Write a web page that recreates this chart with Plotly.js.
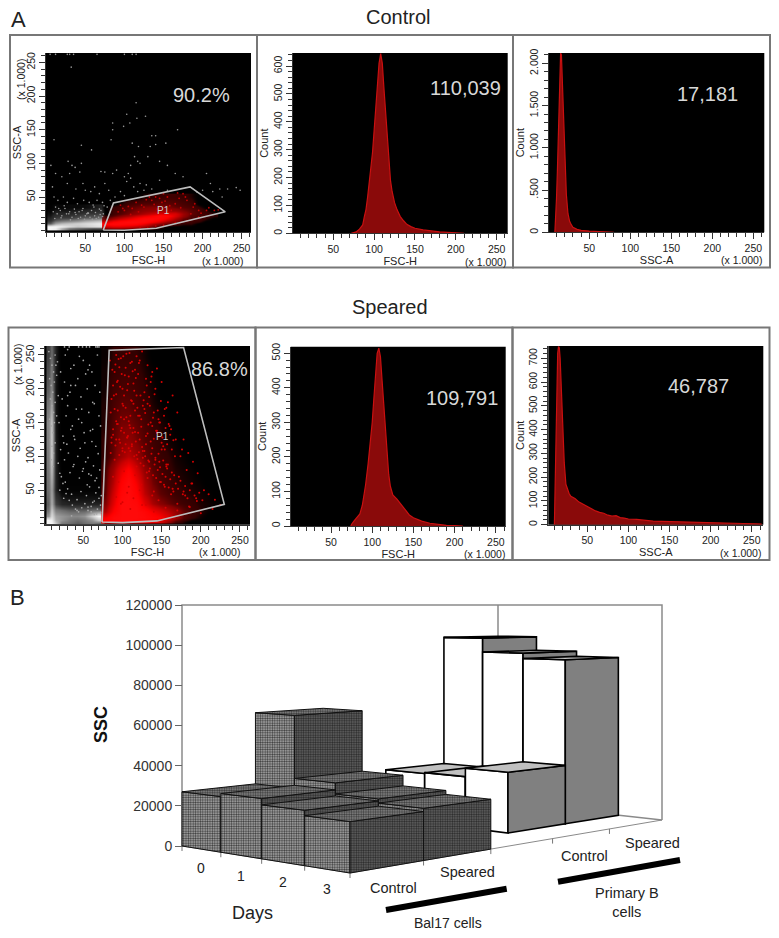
<!DOCTYPE html>
<html><head><meta charset="utf-8">
<script src="https://cdn.plot.ly/plotly-3.0.1.min.js"></script>
<style>html,body{margin:0;padding:0;background:#fff}</style></head>
<body><div id="chart" style="width:779px;height:938px"></div>
<script>
// ---------- Histogram data (x in thousands, counts) ----------
const ctrlFscX = [72,78,82,86,88,90,92,95,98,100,102,104,106,108,110,112,114,116,118,120,122,125,128,132,136,140,145,150,160,170,180,190,200,210];
const ctrlFscY = [0,5,15,30,60,85,130,200,290,370,460,550,610,645,610,520,430,330,250,190,150,110,85,60,45,32,24,18,12,8,5,3,1,0];
const ctrlSscX = [8,9,10,11,12,13,14,15,16,17,18,19,20,21,22,24,26,28,30,35,40,50,60,70,80];
const ctrlSscY = [0,150,400,700,1100,1500,1950,2120,2100,1850,1550,1300,1050,700,450,220,130,90,60,35,22,14,8,2,0];
const sprFscX = [74,75,78,82,85,88,90,92,95,98,100,102,104,106,108,110,112,114,116,118,120,122,125,130,135,140,145,150,155,160,170,180,190,200,210];
const sprFscY = [0,5,15,25,35,60,85,120,180,250,300,370,450,500,515,490,420,350,270,210,150,115,90,78,62,48,32,24,18,14,8,4,2,1,0];
const sprSscX = [10,11,12,13,14,15,16,17,18,20,22,24,26,28,30,35,40,45,50,55,60,65,70,75,80,85,90,95,100,110,120,130,140,150,160,170,180,190,200,220,240,255,262];
const sprSscY = [0,190,300,550,720,750,745,700,600,400,260,170,150,130,120,110,95,85,75,65,58,52,48,40,36,38,30,28,24,22,18,15,14,13,10,11,8,8,7,6,5,4,3];

// ---------- Dot plot data: gates ----------
const ctrlGateX = [73,86,184,229,141,100,73];
const ctrlGateY = [1,41,65,28,3.5,0.5,1];
const sprGateX = [74,83,178,230,144,100,74];
const sprGateY = [3,257,261,29,4.5,2,3];

// ---------- Control dot plot: stray events ----------
const ctrlWhiteX = [32,115,116,103,127,99,107,85,85,83,135,140,168,140,153,133,110,118,10,45,58,113,117,130,108,120,145,155,28,33,37,45,6,12,20,27,30,43,70,75,85,90,100,105,103,108,112,120,128,135,117,125,145,155,165,175,205,210,222,232,243,248,193,200,213,225,38,47,50,57,62,75,68,80,88,95,100,8,10,15,22,27,35,40,48,55,60,65,72,78,82,12,18,24,30,36,42,47,52,58,63,68,73,14,20,26,33,38,44,50,56,62,67,5,12,27,30,35,65,100,110,115,9,16,23,29,37,46,54,61,70,74,11,19,31,41,49,53,59,64,69,72];
const ctrlWhiteY = [243,190,167,173,170,155,160,150,160,135,141,141,150,128,130,125,130,125,135,127,120,110,103,110,97,100,103,97,103,97,94,100,97,85,80,70,85,87,88,87,85,90,80,85,73,78,65,70,68,62,58,60,75,60,85,80,85,70,62,62,64,60,57,60,58,50,62,70,60,58,65,70,55,60,50,58,52,65,50,45,50,42,48,40,45,42,38,45,42,35,45,35,30,33,28,32,28,33,25,30,27,32,25,25,22,25,20,24,20,22,20,22,20,262,262,262,262,262,262,262,262,262,28,33,37,25,27,30,26,35,30,37,18,19,16,18,17,26,17,18,24,21];
const ctrlRedX = [95,105,115,125,135,145,155,165,170,175,160,185,195,205,215,190,180,150,140,100,110,150,165,180,195,120,130,140,92,98,122,128,138,148,158,172,178,188,198,208,220,168,152,142,132,118,108];
const ctrlRedY = [38,36,42,35,45,48,50,40,48,55,30,25,30,30,30,40,45,55,50,30,33,8,12,15,20,5,4,7,28,33,38,46,39,42,37,34,50,35,26,34,31,56,44,32,50,28,24];

// ---------- Speared dot plot: stray events ----------
const sprWhiteX = [6,8,10,12,14,7,9,11,13,15,8,10,12,14,16,7,9,11,13,8,10,12,9,11,14,16,18,20,24,28,32,36,40,44,48,52,56,60,64,68,72,20,25,30,35,42,47,54,58,62,66,70,18,22,27,33,37,45,50,55,60,65,70,73,21,26,31,38,43,49,53,57,63,67,71,24,29,34,39,46,51,56,61,69,19,28,36,44,52,59,66,23,30,41,48,57,62,72,26,33,40,47,55,64,70,17,21,34,43,53,65,27,38,50,61,71,30,45,58,68,25,42,56,67,35,60,64,72,30,48,38,62,34,56,68,26,66,70,49,58,32,44,54];
const sprWhiteY = [255,245,235,225,250,215,205,195,210,235,185,175,165,180,220,155,145,135,150,125,115,105,95,85,120,160,190,75,60,45,35,28,22,18,24,30,20,26,34,22,28,50,38,52,44,36,48,42,55,32,46,38,90,70,62,76,85,68,82,58,72,64,54,42,110,95,105,88,100,78,92,74,86,68,80,130,118,140,125,112,135,98,122,104,150,160,145,155,120,138,115,185,175,170,150,165,180,145,210,195,205,188,200,178,160,240,225,230,215,222,205,250,235,242,225,195,258,248,235,250,120,20,25,15,12,18,14,17,190,170,130,140,205,228,262,262,262,262,262,262,262,262,262];
const sprRedX = [92,98,105,112,118,125,132,90,96,103,110,116,122,130,138,88,94,100,108,114,120,128,136,144,86,92,100,106,112,118,126,134,142,150,158,85,90,98,104,110,116,124,132,140,148,156,164,88,94,102,108,114,122,130,138,146,154,162,170,178,86,92,100,106,112,120,128,136,144,152,160,168,176,184,90,96,104,110,118,126,134,142,150,158,166,174,182,190,88,95,102,108,116,124,132,140,148,156,164,172,180,188,196,204,92,100,106,114,122,130,138,146,154,162,170,178,186,194,202,210,218,98,110,125,140,155,170,185,200,215,225,
 84,87,91,93,95,97,99,101,102,104,107,109,111,113,115,117,119,121,123,127,129,131,133,135,137,139,141,143,145,147,149,151,153,155,157,159,161,163,165,167,86,89,92,94,97,99,101,103,105,107,109,112,114,116,118,120,122,124,126,128,130,132,134,136,138,140,142,144,146,148,150,152,154,156,85,88,91,93,96,98,100,102,104,106,108,110,113,115,117,119,121,123,125,127,129,131,133,135,137,139,141,143,145,147,149,151,153,155,157,159,161,163,165,168,171,174,177,180,183,186,189,192,195,198];
const sprRedY = [250,245,252,240,248,255,235,225,232,220,238,228,242,215,225,205,212,200,218,208,222,195,210,230,185,192,178,198,182,190,175,188,200,210,180,165,170,158,172,160,168,155,178,165,150,172,190,140,148,135,152,142,160,130,145,155,170,140,165,125,120,125,112,128,118,135,108,122,135,115,145,125,110,105,95,102,90,108,85,98,78,95,110,88,72,100,80,92,70,62,78,55,72,58,68,48,62,85,52,70,42,60,75,50,40,32,46,38,50,28,42,35,55,44,30,48,25,38,35,44,36,30,22,28,18,24,20,26,16,22,28,
 242,228,236,210,244,203,222,248,190,231,207,253,183,226,197,216,172,238,190,183,164,205,147,175,218,157,192,138,168,150,182,128,160,142,118,148,132,110,124,100,128,190,152,168,120,142,175,106,158,130,146,115,178,136,102,160,125,144,108,170,118,134,92,150,112,126,98,138,104,84,120,94,110,88,105,132,116,148,125,138,108,155,118,128,112,142,135,100,122,96,106,90,114,86,100,76,94,82,104,72,88,68,80,92,62,74,58,70,82,54,66,76,48,60,52,64,44,56,38,50,60,42,34,46,36,28,40,32,24,38,30,26,20,34];

// ---------- Density estimates read from the dense clouds ----------
const ctrlDenseX = [76,85,95,105,115,125,135,145,155,165,175,185,195,205,215];
const ctrlDenseY = [2,6,10,14,18,22,26,30,35,40,50];
const ctrlDenseZ = [
 [0,0,0,0,0,0,0,0,0,0,0,0,0,0,0],
 [.45,.55,.55,.5,.4,.3,.15,.08,0,0,0,0,0,0,0],
 [.85,.95,.95,.9,.85,.65,.4,.25,.15,.1,.05,.05,0,0,0],
 [.5,.75,.9,1,1,.95,.75,.55,.3,.18,.1,.08,.05,0,0],
 [.15,.3,.45,.6,.8,1,1,.9,.65,.35,.15,.1,.1,.05,0],
 [.05,.12,.2,.3,.45,.6,.75,.95,.85,.55,.28,.12,.1,.08,.05],
 [0,.08,.12,.18,.25,.35,.45,.55,.6,.55,.3,.15,.1,.08,.05],
 [0,.08,.1,.15,.2,.25,.28,.32,.3,.28,.2,.14,.1,.05,0],
 [0,.05,.08,.12,.15,.18,.2,.2,.2,.15,.12,.1,.05,0,0],
 [0,0,.03,.08,.1,.12,.12,.14,.14,.12,.1,.08,0,0,0],
 [0,0,0,0,0,.03,.05,.06,.08,.08,.06,.04,0,0,0]];
const ctrlDimX = [5,12,20,30,40,50,60,70,76];
const ctrlDimY = [3,7,11,15,20,27,35];
const ctrlDimZ = [
 [.95,.9,.6,.35,.3,.25,.2,.2,0],
 [.95,.95,.9,.8,.7,.75,.8,.85,0],
 [.3,.55,.65,.7,.75,.8,.85,.9,0],
 [.15,.3,.35,.4,.45,.55,.6,.65,0],
 [.1,.18,.2,.2,.25,.3,.3,.35,0],
 [.05,.1,.1,.1,.12,.15,.15,.18,0],
 [.02,.05,.04,.05,.05,.06,.08,.1,0]];
const sprDenseX = [78,88,98,108,118,128,138,148,158,168,178,188,198,208,218];
const sprDenseY = [4,10,18,30,45,60,80,100,125,150,175,200,225,250];
const sprDenseZ = [
 [.8,.9,1,1,.95,.8,.65,.5,.25,.1,.04,0,0,0,0],
 [.7,.95,1,1,1,.95,.85,.75,.55,.3,.12,.06,.03,0,0],
 [.35,.75,1,1,1,.9,.7,.55,.4,.28,.15,.08,.05,.02,0],
 [.2,.6,1,1,.95,.6,.35,.22,.16,.11,.08,.06,.04,.03,.02],
 [.14,.5,.9,1,.8,.42,.24,.14,.1,.07,.05,.04,.03,.02,0],
 [.12,.4,.8,1,.7,.35,.18,.11,.08,.05,.04,.03,.02,0,0],
 [.1,.3,.6,.8,.5,.25,.14,.09,.06,.04,.03,.02,0,0,0],
 [.05,.16,.3,.4,.28,.15,.1,.07,.05,.03,.02,0,0,0,0],
 [.05,.14,.22,.25,.18,.12,.08,.05,.03,.02,0,0,0,0,0],
 [.04,.12,.18,.18,.14,.1,.06,.04,.02,0,0,0,0,0,0],
 [.04,.1,.14,.14,.1,.07,.04,.02,0,0,0,0,0,0,0],
 [.03,.08,.1,.1,.08,.05,.03,0,0,0,0,0,0,0,0],
 [.03,.06,.08,.08,.06,.04,.02,0,0,0,0,0,0,0,0],
 [.02,.05,.06,.06,.05,.03,0,0,0,0,0,0,0,0,0]];
const sprDimX = [5,9,14,22,32,42,52,62,70,75];
const sprDimY = [2,6,12,20,30,50,100,150,200,255];
const sprDimZ = [
 [.95,.95,.7,.4,.35,.3,.35,.4,.35,.3],
 [.95,.9,.6,.5,.4,.35,.4,.5,.7,.7],
 [.5,.8,.55,.5,.45,.45,.5,.75,.95,.95],
 [.35,.7,.4,.35,.3,.3,.3,.35,.35,.3],
 [.3,.6,.22,.12,.1,.1,.1,.1,.1,.1],
 [.35,.55,.1,.03,.03,.03,.03,.03,.03,.03],
 [.4,.75,.1,0,0,0,0,0,0,0],
 [.45,.7,.08,0,0,0,0,0,0,0],
 [.3,.45,.08,0,0,0,0,0,0,0],
 [.2,.35,.1,0,0,0,0,0,0,0]];

// ---------- 3D bar data (SSC by day and group) ----------
const days = ['0','1','2','3'];
const groups = ['Control','Speared','Control','Speared'];
const bal17Control = [27000,28500,25500,23000];
const bal17Speared = [64000,32000,26500,24500];
const primaryControl = [27000,27500,32000];
const primarySpeared = [101000,93000,90000];
const sscTicks = [0,20000,40000,60000,80000,100000,120000];

// ---------- Layout helpers ----------
const W=779,H=938;
const X=p=>p/W, Y=p=>1-p/H;
const traces=[], shapes=[], annos=[];
const layout={width:W,height:H,margin:{l:0,r:0,t:0,b:0},paper_bgcolor:'#fff',plot_bgcolor:'#fff',showlegend:false,
  font:{family:'Liberation Sans, Arial, sans-serif',color:'#222'},shapes,annotations:annos};
function text(str,x,y,size,opt={}){annos.push(Object.assign({text:str,xref:'paper',yref:'paper',x:X(x),y:Y(y),xanchor:'center',yanchor:'middle',showarrow:false,font:{size,color:'#222'}},opt));}

const panels=[
 {n:1,l:46,r:251,t:53,b:232,xr:[-0.25,261.9],yr:[-2,264],xt:'FSC-H',yt:'SSC-A',yv:[50,100,150,200,250],ym:10,big:'90.2%',bx:201.7,by:95,ux:222,uy:261,kx:21,ky:80},
 {n:2,l:292.7,r:507.7,t:53,b:233.3,xr:[0.3,263.5],yr:[0,647],xt:'FSC-H',yt:'Count',yv:[0,100,200,300,400,500,600],ym:20,big:'110,039',bx:465.7,by:88,ux:486,uy:262,},
 {n:3,l:549,r:764.3,t:53,b:232.3,xr:[0.85,263.4],yr:[0,2122],xt:'SSC-A',yt:'Count',yv:[0,500,1000,1500,2000],yl:['0','.500','1.000','1.500','2.000'],ym:100,big:'17,181',bx:707.7,by:94.3,ux:741.7,uy:260},
 {n:4,l:45,r:250,t:346,b:524.7,xr:[1.1,262.8],yr:[-1.1,263.3],xt:'FSC-H',yt:'SSC-A',yv:[50,100,150,200,250],ym:10,big:'86.8%',bx:219.3,by:369.3,ux:220,uy:552,kx:18,ky:365},
 {n:5,l:290.7,r:505.7,t:346.7,b:526,xr:[1.06,262],yr:[0,519],xt:'FSC-H',yt:'Count',yv:[0,100,200,300,400,500],ym:20,big:'109,791',bx:461.7,by:398.3,ux:484,uy:553.5},
 {n:6,l:548.3,r:763.3,t:346,b:524.7,xr:[2.6,264],yr:[0,752],xt:'SSC-A',yt:'Count',yv:[0,100,200,300,400,500,600,700],ym:20,big:'46,787',bx:698.3,by:386,ux:740,uy:552.5}
];
const tickFont={size:10.5,color:'#222'};
panels.forEach(p=>{
  const xk='xaxis'+p.n, yk='yaxis'+p.n;
  layout[xk]={domain:[X(p.l),X(p.r)],range:p.xr,anchor:'y'+p.n,showgrid:false,zeroline:false,showline:true,linecolor:'#333',
    tickmode:'array',tickvals:[50,100,150,200,250],ticks:'outside',ticklen:6,tickcolor:'#333',tickfont:tickFont,
    minor:{tick0:0,dtick:10,ticks:'outside',ticklen:4,tickcolor:'#333',showgrid:false},
    title:{text:p.xt,font:{size:11,color:'#222'},standoff:1}};
  layout[yk]={domain:[Y(p.b),Y(p.t)],range:p.yr,anchor:'x'+p.n,showgrid:false,zeroline:false,showline:true,linecolor:'#333',
    tickmode:'array',tickvals:p.yv,ticktext:p.yl||p.yv.map(String),tickangle:-90,ticks:'outside',ticklen:6,tickcolor:'#333',tickfont:tickFont,
    minor:{tick0:0,dtick:p.ym,ticks:'outside',ticklen:4,tickcolor:'#333',showgrid:false},
    title:{text:p.yt,font:{size:11,color:'#222'},standoff:0}};
  shapes.push({type:'rect',xref:'x'+p.n+' domain',yref:'y'+p.n+' domain',x0:0,x1:1,y0:0,y1:1,fillcolor:'#000',line:{width:0},layer:'below'});
  text(p.big,p.bx,p.by,20,{font:{size:20,color:'#d8d8d8'}});
  text('(x 1.000)',p.ux,p.uy,10.5,{font:{size:10.5,color:'#222'}});
  if(p.kx) text('(x 1.000)',p.kx,p.ky,10.5,{textangle:-90,font:{size:10.5,color:'#222'}});
});
// Panel frames
[[10,257,513,770,35,267.5],[8.5,255.5,512.5,769.5,327.5,560]].forEach(([a,b,c,d,t,u])=>{
  [[a,b],[b,c],[c,d]].forEach(([l,r])=>shapes.push({type:'rect',xref:'paper',yref:'paper',x0:X(l),x1:X(r),y0:Y(u),y1:Y(t),line:{color:'#777',width:2},layer:'below'}));
});

const redScale=[[0,'rgba(0,0,0,0)'],[0.05,'rgba(90,0,0,0.55)'],[0.2,'rgb(130,0,0)'],[0.45,'rgb(200,0,0)'],[0.75,'rgb(255,0,0)'],[1,'rgb(255,10,10)']];
const whiteScale=[[0,'rgba(0,0,0,0)'],[0.1,'rgba(70,70,70,0.5)'],[0.35,'rgb(110,110,110)'],[0.7,'rgb(200,200,200)'],[1,'rgb(255,255,255)']];
function dense(ax,ay,x,y,z,scale){traces.push({type:'heatmap',x,y,z,xaxis:ax,yaxis:ay,colorscale:scale,zmin:0,zmax:1,zsmooth:'best',showscale:false,hoverinfo:'skip'});}
function dots(ax,ay,x,y,color,size){traces.push({type:'scatter',mode:'markers',x,y,xaxis:ax,yaxis:ay,marker:{color,size,line:{width:0}},hoverinfo:'skip'});}
function gate(ax,ay,x,y){traces.push({type:'scatter',mode:'lines',x,y,xaxis:ax,yaxis:ay,line:{color:'#bdbdbd',width:1.6},hoverinfo:'skip'});}
function hist(ax,ay,x,y){traces.push({type:'scatter',mode:'lines',x,y,xaxis:ax,yaxis:ay,fill:'tozeroy',fillcolor:'#8a0a0a',line:{color:'#c81010',width:1.2,shape:'linear'},hoverinfo:'skip'});}

// Control dot plot
dense('x1','y1',ctrlDimX,ctrlDimY,ctrlDimZ,whiteScale);
dense('x1','y1',ctrlDenseX,ctrlDenseY,ctrlDenseZ,redScale);
dots('x1','y1',ctrlWhiteX,ctrlWhiteY,'#9a9a9a',1.6);
dots('x1','y1',ctrlRedX,ctrlRedY,'#c00000',1.8);
gate('x1','y1',ctrlGateX,ctrlGateY);
hist('x2','y2',ctrlFscX,ctrlFscY);
hist('x3','y3',ctrlSscX,ctrlSscY);
// Speared dot plot
dense('x4','y4',sprDimX,sprDimY,sprDimZ,whiteScale);
dense('x4','y4',sprDenseX,sprDenseY,sprDenseZ,redScale);
dots('x4','y4',sprWhiteX,sprWhiteY,'#a8a8a8',1.7);
dots('x4','y4',sprRedX,sprRedY,'#d80000',2);
gate('x4','y4',sprGateX,sprGateY);
hist('x5','y5',sprFscX,sprFscY);
hist('x6','y6',sprSscX,sprSscY);
annos.push({text:'P1',xref:'x1',yref:'y1',x:150,y:29.6,showarrow:false,font:{size:10,color:'#ccc'}});
annos.push({text:'P1',xref:'x4',yref:'y4',x:151,y:129,showarrow:false,font:{size:10,color:'#ccc'}});

// ---------- 3D bars: perspective floor projection ----------
const C=[[182,846],[350,873],[662,820],[498,802]]; // floor corners
const horizonY=605, baseY=846, unitH=241/120000;
const den=(C[1][0]-C[2][0])*(C[3][1]-C[2][1])-(C[3][0]-C[2][0])*(C[1][1]-C[2][1]);
const sx=C[0][0]-C[1][0]+C[2][0]-C[3][0], sy=C[0][1]-C[1][1]+C[2][1]-C[3][1];
const g=(sx*(C[3][1]-C[2][1])-(C[3][0]-C[2][0])*sy)/den;
const h=((C[1][0]-C[2][0])*sy-sx*(C[1][1]-C[2][1]))/den;
function project(d,s,v){
  const u=d/4,t=s/5,w=1+g*u+h*t;
  const px=((C[1][0]-C[0][0]+g*C[1][0])*u+(C[3][0]-C[0][0]+h*C[3][0])*t+C[0][0])/w;
  const py=((C[1][1]-C[0][1]+g*C[1][1])*u+(C[3][1]-C[0][1]+h*C[3][1])*t+C[0][1])/w;
  const top=py-(py-horizonY)*v/120000;
  return [px,(baseY-top)/unitH];
}
layout.xaxis7={domain:[0,1],range:[0,W],anchor:'y7',visible:false};
layout.yaxis7={domain:[0,Y(590)],range:[(baseY-938)/unitH,(baseY-590)/unitH],anchor:'free',position:182/W,
  showgrid:false,zeroline:false,showline:false,tickmode:'array',tickvals:sscTicks,ticktext:sscTicks.map(String),ticks:'outside',ticklen:7,tickcolor:'#666',tickfont:{size:14,color:'#333'}};
function path(points,opts){
  traces.push(Object.assign({type:'scatter',mode:'lines',x:points.map(p=>p[0]),y:points.map(p=>p[1]),xaxis:'x7',yaxis:'y7',hoverinfo:'skip'},opts));
}
const wall={line:{color:'#8a8a8a',width:1.5}};
path([project(0,0,0),project(0,0,120000),project(0,5,120000),project(4,5,120000),project(4,5,0)],wall);
path([project(0,5,120000),project(0,5,0),project(4,5,0)],wall);
path([project(0,0,0),project(4,0,0),project(4,5,0)],{line:{color:'#8a8a8a',width:1}});
[0,1,2,3,4].forEach(d=>{const a=project(d,0,0);path([a,[a[0],a[1]-5/unitH]],{line:{color:'#777',width:1}});});
[1,2,3,4].forEach(s=>{const a=project(4,s,0);path([a,[a[0],a[1]-5/unitH]],{line:{color:'#777',width:1}});});

function bar(d,s,v,st){
  const face=(pts,fill,pat)=>path(pts.concat([pts[0]]),{fill:'toself',fillcolor:fill,line:st.line,fillpattern:pat});
  face([project(d,s,0),project(d+1,s,0),project(d+1,s,v),project(d,s,v)],st.front,st.frontPat);
  face([project(d+1,s,0),project(d+1,s+1,0),project(d+1,s+1,v),project(d+1,s,v)],st.right,st.rightPat);
  face([project(d,s,v),project(d+1,s,v),project(d+1,s+1,v),project(d,s+1,v)],st.top,st.topPat);
}
const pat=(fg,bg)=>({shape:'.',size:2.4,solidity:0.5,fgcolor:fg,bgcolor:bg});
const dither={line:{color:'#111',width:1},front:'#8f8f8f',right:'#4c4c4c',top:'#6e6e6e',frontPat:pat('#3a3a3a','#b4b4b4'),rightPat:pat('#2a2a2a','#666666'),topPat:pat('#3a3a3a','#8a8a8a')};
const plain={line:{color:'#000',width:1.6},front:'#ffffff',right:'#808080',top:'#c0c0c0'};
primarySpeared.forEach((v,d)=>bar(d,4,v,plain));
primaryControl.forEach((v,d)=>bar(d,3,v,plain));
bal17Speared.forEach((v,d)=>bar(d,1,v,dither));
bal17Control.forEach((v,d)=>bar(d,0,v,dither));

// Labels
text('A',18,20,22);text('B',17,597,22);
text('Control',398,17,20);text('Speared',390,307,20);
text('SSC',101,724,18,{textangle:-90,font:{size:18,color:'#111',family:'Liberation Sans, Arial, sans-serif',weight:700}});
[[201,868],[240.7,875.7],[282.7,882.3],[326.7,889]].forEach((p,i)=>text(days[i],p[0],p[1],14));
text('Days',252.7,913,18);
[[394,887.7],[467,871.7],[584,856],[652.7,842.7]].forEach((p,i)=>text(groups[i],p[0],p[1],14.5));
text('Bal17 cells',447.7,923,14);
text('Primary B<br>cells',626.7,902,14.5);
[[386,910,506.7,888.7],[558,881.7,680,860]].forEach(a=>shapes.push({type:'line',xref:'paper',yref:'paper',x0:X(a[0]),y0:Y(a[1]),x1:X(a[2]),y1:Y(a[3]),line:{color:'#000',width:6}}));

Plotly.newPlot('chart',traces,layout,{displayModeBar:false,staticPlot:true});
</script></body></html>
